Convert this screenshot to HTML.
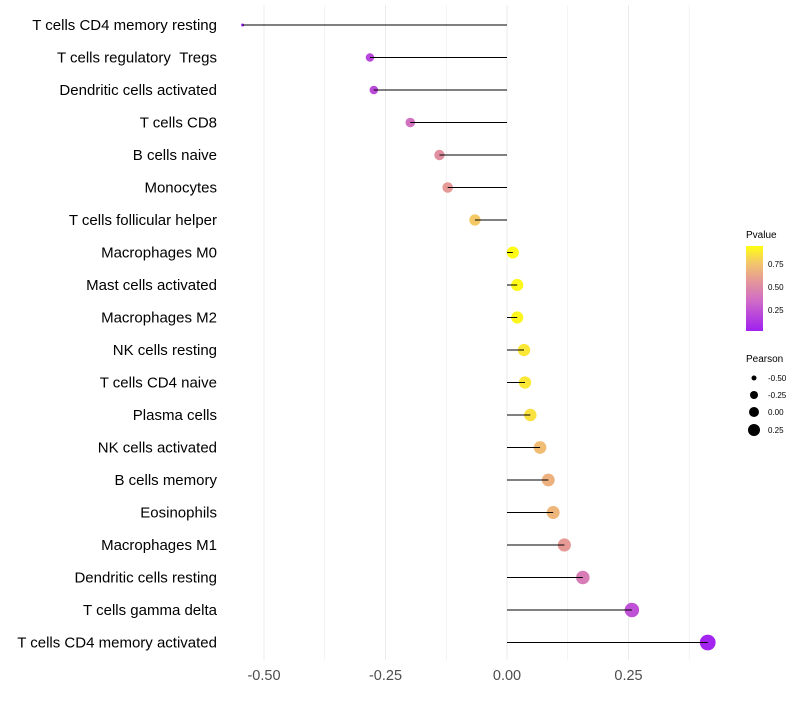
<!DOCTYPE html>
<html><head><meta charset="utf-8"><style>
body{margin:0;background:#fff;font-family:"Liberation Sans",sans-serif}
</style></head><body>
<svg id="c" width="800" height="700" xmlns="http://www.w3.org/2000/svg">
<defs><linearGradient id="pg" x1="0" y1="1" x2="0" y2="0">
<stop offset="0" stop-color="#a020f0"/><stop offset="0.35" stop-color="#cf6ac8"/><stop offset="0.6" stop-color="#e59a96"/><stop offset="0.8" stop-color="#f3c66a"/><stop offset="1" stop-color="#ffff10"/>
</linearGradient></defs>
<g id="grid"></g><g id="marks"></g><g id="labels"></g>
<g>
<text x="746" y="238" font-size="10" fill="#000">Pvalue</text>
<rect x="746" y="246" width="17" height="85" fill="url(#pg)"/>
<text x="768" y="267" font-size="8">0.75</text><text x="768" y="290" font-size="8">0.50</text><text x="768" y="313" font-size="8">0.25</text>
</g>
<g>
<text x="746" y="362" font-size="10">Pearson</text>
<circle cx="754" cy="378" r="2.5"/><text x="768" y="381" font-size="8">-0.50</text>
<circle cx="754" cy="395" r="4"/><text x="768" y="398" font-size="8">-0.25</text>
<circle cx="754" cy="412" r="5"/><text x="768" y="415" font-size="8">0.00</text>
<circle cx="754" cy="430" r="6"/><text x="768" y="433" font-size="8">0.25</text>
</g>
</svg>
<script>
const categories=["T cells CD4 memory resting","T cells regulatory\u00a0\u00a0Tregs","Dendritic cells activated","T cells CD8","B cells naive","Monocytes","T cells follicular helper","Macrophages M0","Mast cells activated","Macrophages M2","NK cells resting","T cells CD4 naive","Plasma cells","NK cells activated","B cells memory","Eosinophils","Macrophages M1","Dendritic cells resting","T cells gamma delta","T cells CD4 memory activated"];
const pearson=[-0.544,-0.282,-0.274,-0.199,-0.139,-0.122,-0.066,0.012,0.021,0.021,0.035,0.037,0.048,0.068,0.085,0.095,0.118,0.156,0.257,0.413];
const pvalue=[0.03,0.2,0.22,0.4,0.55,0.6,0.8,0.97,0.96,0.95,0.9,0.9,0.88,0.75,0.7,0.72,0.6,0.45,0.25,0.05];
const ticks=[-0.5,-0.25,0,0.25];
const tickLabels=["-0.50","-0.25","0.00","0.25"];
const NS="http://www.w3.org/2000/svg";
const x=v=>507+v*486;
const y=i=>25+i*32.5;
const rad=v=>Math.max(1.5,Math.sqrt(Math.max(0,v+0.56))*8);
const stops=[[0,[160,32,240]],[0.35,[207,106,200]],[0.6,[229,154,150]],[0.8,[243,198,106]],[1,[255,255,16]]];
function col(p){const t=(p-0.03)/0.95;const tt=Math.max(0,Math.min(1,t));
for(let k=1;k<stops.length;k++){if(tt<=stops[k][0]){const a=stops[k-1],b=stops[k];const f=(tt-a[0])/(b[0]-a[0]);
return "rgb("+a[1].map((c,j)=>Math.round(c+(b[1][j]-c)*f)).join(",")+")";}}return "rgb(255,255,16)";}
function mk(t,attrs,parent){const e=document.createElementNS(NS,t);for(const k in attrs)e.setAttribute(k,attrs[k]);document.getElementById(parent).appendChild(e);return e;}
for(let g=-0.5;g<=0.376;g+=0.125){const l=mk("line",{x1:x(g),x2:x(g),y1:5,y2:660,stroke:"#ebebeb","stroke-width":Math.abs(g*4-Math.round(g*4))<1e-6?1:0.6},"grid");

}
ticks.forEach((t,i)=>{const e=mk("text",{x:x(t),y:680,"text-anchor":"middle","font-size":"14.5",fill:"#4d4d4d"},"labels");e.textContent=tickLabels[i];

});
categories.forEach((c,i)=>{
const t=mk("text",{x:217,y:y(i)+5,"text-anchor":"end","font-size":"15",fill:"#000"},"labels");t.textContent=c;


const d=mk("circle",{cx:x(pearson[i]),cy:y(i),r:rad(pearson[i]),fill:col(pvalue[i])},"marks");


const l=mk("line",{x1:x(0),x2:x(pearson[i]),y1:y(i),y2:y(i),stroke:"#000","stroke-width":1},"marks");


});
</script>
</body></html>
